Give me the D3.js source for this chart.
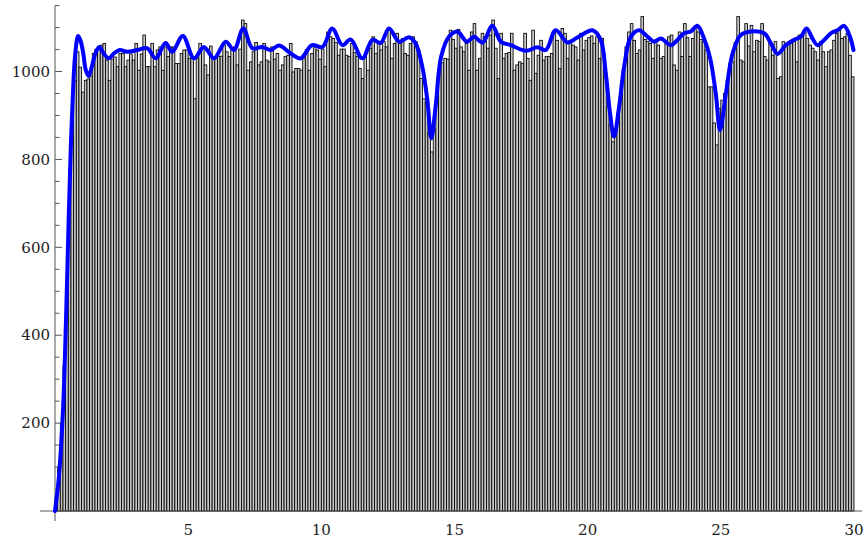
<!DOCTYPE html>
<html>
<head>
<meta charset="utf-8">
<script src="https://cdn.jsdelivr.net/npm/d3@7"></script>
<style>
  body { margin: 0; background: #fff; }
  svg { display: block; }
  .tick-label { font-family: "DejaVu Serif", "Liberation Serif", "Noto Serif", "Times New Roman", Times, serif; font-size: 15px; fill: #222; }
</style>
</head>
<body>
<div id="chart"></div>
<script>
// histogram: 300 bins of width 0.1 on [0, 30]
const binWidth = 0.1;
const counts = [
  30, 100, 200, 330, 500, 680, 850, 980, 1045, 1010,
  953, 980, 983, 990, 1041, 1050, 1055, 1060, 1064, 1026,
  980, 1028, 1033, 1011, 1041, 1041, 1011, 1026, 1040, 1026,
  1064, 1003, 1040, 1083, 1011, 1011, 1064, 1011, 1049, 1056,
  1003, 1056, 1034, 1056, 1056, 1018, 1018, 1041, 1049, 1049,
  1030, 1034, 938, 1030, 1064, 1056, 1015, 992, 1058, 1034,
  1030, 1034, 1035, 1060, 1045, 1034, 1049, 1056, 1015, 1051,
  1117, 1109, 1003, 1022, 1045, 1066, 1015, 1022, 1064, 1026,
  1022, 1056, 1028, 1041, 1003, 1015, 1034, 1037, 1064, 999,
  1007, 1007, 1003, 1030, 1050, 1003, 1041, 1056, 1049, 1028,
  1051, 1011, 1090, 1079, 1075, 1066, 1037, 1051, 1051, 1037,
  1034, 1064, 1043, 1034, 1007, 984, 1034, 1003, 1053, 1079,
  1041, 1064, 1049, 1068, 1056, 1098, 1030, 1064, 1087, 1064,
  1075, 1041, 1037, 1064, 1079, 1068, 1049, 984, 938, 930,
  860, 817, 870, 958, 999, 1020, 1030, 1028, 1094, 1073,
  1053, 1096, 1056, 1045, 1064, 1003, 1090, 1109, 1003, 1030,
  1087, 1079, 1053, 1083, 1117, 1053, 984, 1087, 1030, 1041,
  1043, 1087, 1003, 1015, 1022, 1018, 1087, 1030, 980, 1094,
  996, 1037, 1071, 1026, 1034, 1034, 1041, 1090, 1071, 1007,
  1098, 1087, 1030, 1071, 1060, 1056, 1026, 1087, 1049, 1071,
  1077, 1081, 1064, 1079, 1030, 1075, 988, 920, 880, 840,
  870, 905, 950, 1003, 1056, 1090, 1109, 1071, 1041, 1049,
  1125, 1073, 1068, 1064, 1030, 1071, 1060, 1030, 1034, 1064,
  1079, 1083, 1015, 1003, 1090, 1034, 1109, 1077, 1034, 1075,
  1102, 1090, 1073, 1068, 1049, 965, 965, 883, 833, 916,
  935, 950, 980, 1018, 1022, 1066, 1125, 1026, 1022, 1109,
  1058, 1105, 1045, 1071, 1068, 1109, 1034, 1026, 1064, 1037,
  1068, 984, 988, 1068, 1060, 1066, 1064, 1068, 1022, 1083,
  1079, 1090, 1075, 1060, 1053, 1045, 1026, 1068, 1045, 1011,
  1045, 1049, 1071, 1087, 1094, 1075, 1079, 1087, 1037, 988
];

// smooth fitted curve (x, value)
const curveX = [
  0, 0.15, 0.3, 0.42, 0.52, 0.6, 0.68, 0.76, 0.87, 0.96, 1.06, 1.15, 1.26, 1.4, 1.52, 1.66,
  1.83, 2.02, 2.21, 2.43, 2.71, 3.09, 3.46, 3.78, 4.15, 4.4, 4.8, 5.22, 5.59, 5.97,
  6.41, 6.72, 7.07, 7.41, 7.78, 8.1, 8.41, 8.85, 9.22, 9.65, 10.04, 10.41, 10.79, 11.1,
  11.54, 11.92, 12.23, 12.54, 12.92, 13.29, 13.54, 13.79, 13.98, 14.13, 14.29, 14.5,
  14.79, 15.11, 15.46, 15.73, 16.05, 16.42, 16.74, 17.11, 17.68, 18.11, 18.43, 18.8,
  19.24, 19.55, 19.8, 20.18, 20.49, 20.68, 20.84, 20.99, 21.18, 21.37, 21.62, 21.93,
  22.25, 22.49, 22.75, 23.12, 23.37, 23.62, 23.87, 24.12, 24.37, 24.6, 24.81, 24.97,
  25.19, 25.44, 25.75, 26.13, 26.63, 26.88, 27.13, 27.44, 27.75, 28.0, 28.22, 28.44,
  28.63, 28.88, 29.13, 29.38, 29.63, 29.85, 29.98
];
const curveY = [
  0, 80, 230, 450, 680, 840, 960, 1040, 1081, 1070, 1042, 1005, 990, 1015, 1042, 1056,
  1041, 1030, 1041, 1049, 1045, 1049, 1053, 1030, 1065, 1045, 1081, 1030, 1056, 1030,
  1068, 1049, 1098, 1053, 1056, 1049, 1059, 1041, 1030, 1060, 1056, 1098, 1060, 1073,
  1030, 1072, 1065, 1098, 1068, 1078, 1064, 1011, 935, 848, 920, 1034,
  1079, 1091, 1068, 1079, 1066, 1104, 1068, 1060, 1047, 1055, 1049, 1094,
  1066, 1075, 1084, 1094, 1072, 996, 905, 852, 920, 1011, 1079, 1094,
  1079, 1068, 1075, 1060, 1072, 1087, 1091, 1104, 1075, 1030, 950, 867,
  950, 1041, 1083, 1091, 1087, 1064, 1040, 1060, 1072, 1079, 1098, 1075,
  1060, 1072, 1087, 1094, 1104, 1079, 1049
];

const xTicks = [5, 10, 15, 20, 25, 30];
const yTicks = [200, 400, 600, 800, 1000];

const width = 865, height = 539;

const svg = d3.select("#chart").append("svg")
  .attr("width", width)
  .attr("height", height);

const x = d3.scaleLinear().domain([0, 30]).range([55, 854]);
const y = d3.scaleLinear().domain([0, 1150]).range([511, 5.6]);

const AXIS = "#555";

// bars
svg.append("g")
  .selectAll("rect")
  .data(counts)
  .join("rect")
  .attr("x", (d, i) => x(i * binWidth))
  .attr("y", d => y(d))
  .attr("width", (d, i) => x((i + 1) * binWidth) - x(i * binWidth))
  .attr("height", d => y(0) - y(d))
  .attr("fill", "#c8c8c8")
  .attr("stroke", "#000")
  .attr("stroke-width", 0.85);

// y axis (ticks pointing into the plot)
const yMinor = d3.range(50, 1151, 50).filter(v => v % 200 !== 0);
const yAxis = svg.append("g").attr("transform", `translate(${x(0)},0)`);
yAxis.append("line")
  .attr("x1", 0).attr("x2", 0)
  .attr("y1", y(0) + 10).attr("y2", y(1150))
  .attr("stroke", AXIS).attr("stroke-width", 1);
yAxis.selectAll("line.minor")
  .data(yMinor)
  .join("line")
  .attr("class", "minor")
  .attr("x1", 0).attr("x2", 4.5)
  .attr("y1", d => y(d)).attr("y2", d => y(d))
  .attr("stroke", AXIS);
yAxis.selectAll("line.major")
  .data(yTicks)
  .join("line")
  .attr("class", "major")
  .attr("x1", 0).attr("x2", 7)
  .attr("y1", d => y(d)).attr("y2", d => y(d))
  .attr("stroke", AXIS);
yAxis.selectAll("text")
  .data(yTicks)
  .join("text")
  .attr("class", "tick-label")
  .attr("x", -5)
  .attr("y", d => y(d))
  .attr("dy", "0.35em")
  .attr("text-anchor", "end")
  .text(d => d);

// x axis
const xAxis = svg.append("g").attr("transform", `translate(0,${y(0)})`);
xAxis.append("line")
  .attr("x1", x(0) - 15).attr("x2", x(30) + 8)
  .attr("y1", 0).attr("y2", 0)
  .attr("stroke", AXIS).attr("stroke-width", 1);
xAxis.selectAll("text")
  .data(xTicks)
  .join("text")
  .attr("class", "tick-label")
  .attr("x", d => x(d))
  .attr("y", 24)
  .attr("text-anchor", "middle")
  .text(d => d);

// fitted curve
const pts = curveX.map((v, i) => [v, curveY[i]]);
const line = d3.line()
  .x(d => x(d[0]))
  .y(d => y(d[1]))
  .curve(d3.curveCatmullRom.alpha(0.5));

svg.append("path")
  .datum(pts)
  .attr("fill", "none")
  .attr("stroke", "#0000ff")
  .attr("stroke-width", 4)
  .attr("stroke-linejoin", "round")
  .attr("stroke-linecap", "round")
  .attr("d", line);
</script>
</body>
</html>
